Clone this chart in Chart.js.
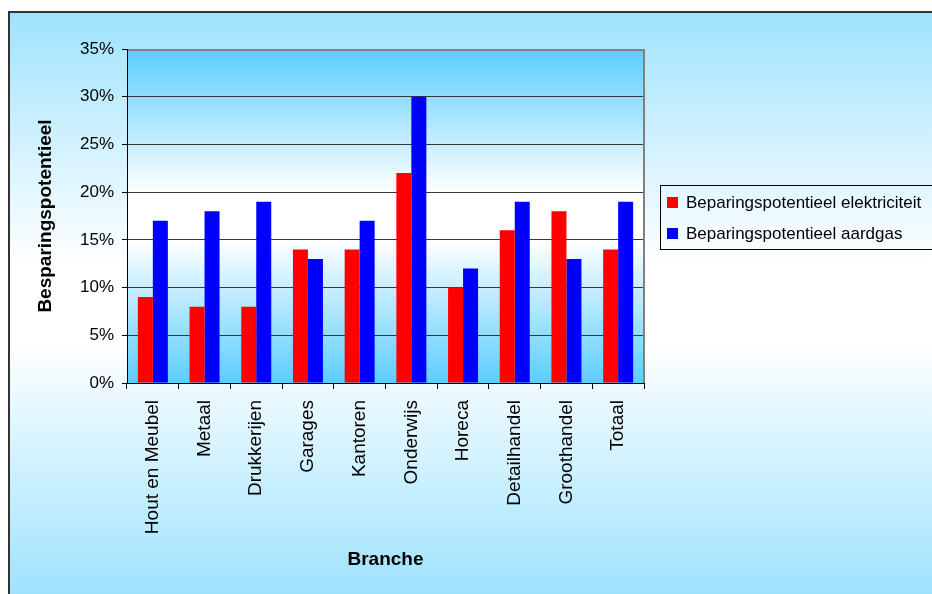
<!DOCTYPE html>
<html>
<head>
<meta charset="utf-8">
<title>Besparingspotentieel per branche</title>
<script src="https://cdn.jsdelivr.net/npm/chart.js@4.4.1/dist/chart.umd.min.js"></script>
<style>
  html, body { margin: 0; padding: 0; background: #fff; }
  canvas { display: block; }
</style>
</head>
<body>
<canvas id="chart" width="932" height="594"></canvas>
<script>
// --- Data ---
const branches = ['Hout en Meubel', 'Metaal', 'Drukkerijen', 'Garages', 'Kantoren',
                  'Onderwijs', 'Horeca', 'Detailhandel', 'Groothandel', 'Totaal'];
const elektriciteit = [9, 8, 8, 14, 14, 22, 10, 16, 18, 14];
const aardgas = [17, 18, 19, 13, 17, 30, 12, 19, 13, 19];
const seriesLabels = ['Beparingspotentieel elektriciteit', 'Beparingspotentieel aardgas'];
const yMax = 35;
const yStep = 5;

const FONT = "'Liberation Sans', Arial, sans-serif";
Chart.defaults.font.family = FONT;
Chart.defaults.color = '#000';

// light blue -> white -> light blue, top to bottom
function bandGradient(ctx, y0, y1, edge) {
    const g = ctx.createLinearGradient(0, y0, 0, y1);
    g.addColorStop(0, edge);
    g.addColorStop(0.43, '#ffffff');
    g.addColorStop(0.57, '#ffffff');
    g.addColorStop(1, edge);
    return g;
}

// --- Plugins ---
const backdrop = {
    id: 'backdrop',
    beforeDraw(chart) {
        const { ctx, width, height, chartArea: a } = chart;
        ctx.save();
        ctx.fillStyle = '#fff';
        ctx.fillRect(0, 0, width, height);

        // outer panel
        ctx.fillStyle = bandGradient(ctx, 12, height, '#9ee3fe');
        ctx.fillRect(10, 13, width - 10, height - 13);
        ctx.strokeStyle = '#333';
        ctx.lineWidth = 2;
        ctx.beginPath();
        ctx.moveTo(9, height);
        ctx.lineTo(9, 12);
        ctx.lineTo(width, 12);
        ctx.stroke();

        // plot area
        ctx.fillStyle = bandGradient(ctx, a.top, a.bottom, '#5bcdfe');
        ctx.fillRect(a.left, a.top, a.right - a.left, a.bottom - a.top);
        ctx.restore();
    },
    afterDraw(chart) {
        const { ctx, chartArea: a } = chart;
        ctx.save();
        ctx.strokeStyle = '#808080';
        ctx.lineWidth = 2;
        ctx.beginPath();
        ctx.moveTo(a.left + 1, 50);
        ctx.lineTo(a.right, 50);
        ctx.lineTo(a.right, a.bottom);
        ctx.stroke();
        ctx.restore();
    }
};

const boxLegend = {
    id: 'boxLegend',
    afterDraw(chart) {
        const { ctx, width } = chart;
        const x = 660, y = 185, h = 64;
        ctx.save();
        ctx.strokeStyle = '#000';
        ctx.lineWidth = 1;
        ctx.strokeRect(x + 0.5, y + 0.5, width - x + 10, h);
        ctx.font = '17px ' + FONT;
        ctx.textBaseline = 'middle';
        ctx.fillStyle = '#000';
        chart.data.datasets.forEach((ds, i) => {
            const cy = y + 17 + i * 31;
            ctx.fillStyle = ds.backgroundColor;
            ctx.fillRect(x + 7, cy - 5, 11, 11);
            ctx.fillStyle = '#000';
            ctx.fillText(ds.label, x + 26, cy + 1);
        });
        ctx.restore();
    }
};

// --- Chart ---
new Chart(document.getElementById('chart'), {
    type: 'bar',
    data: {
        labels: branches,
        datasets: [
            { label: seriesLabels[0], data: elektriciteit, backgroundColor: '#ff0000' },
            { label: seriesLabels[1], data: aardgas, backgroundColor: '#0000ff' }
        ]
    },
    options: {
        responsive: false,
        animation: false,
        devicePixelRatio: 1,
        layout: { padding: { left: 0, top: 49, right: 288, bottom: 0 } },
        datasets: { bar: { categoryPercentage: 0.58, barPercentage: 1.0, borderWidth: 0 } },
        plugins: {
            legend: { display: false },
            tooltip: { enabled: false }
        },
        scales: {
            x: {
                offset: true,
                afterFit: (scale) => { scale.height = 211; },
                grid: {
                    offset: true,
                    drawOnChartArea: false,
                    drawTicks: true,
                    tickLength: 6,
                    color: '#000'
                },
                border: { color: '#000', width: 1 },
                ticks: {
                    autoSkip: false,
                    minRotation: 90,
                    maxRotation: 90,
                    padding: 11,
                    font: { size: 19 }
                },
                title: {
                    display: true,
                    text: 'Branche',
                    font: { size: 19, weight: 'bold' },
                    padding: { top: 0, bottom: 23 }
                }
            },
            y: {
                min: 0,
                max: yMax,
                afterFit: (scale) => { scale.width = 127; },
                grid: {
                    color: '#383838',
                    lineWidth: 1,
                    tickLength: 5,
                    tickColor: '#000'
                },
                border: { color: '#000', width: 1 },
                ticks: {
                    stepSize: yStep,
                    padding: 8,
                    font: { size: 17 },
                    callback: (v) => v + '%'
                },
                title: {
                    display: true,
                    text: 'Besparingspotentieel',
                    font: { size: 19, weight: 'bold' },
                    padding: { top: 34, bottom: 0 }
                }
            }
        }
    },
    plugins: [backdrop, boxLegend]
});
</script>
</body>
</html>
